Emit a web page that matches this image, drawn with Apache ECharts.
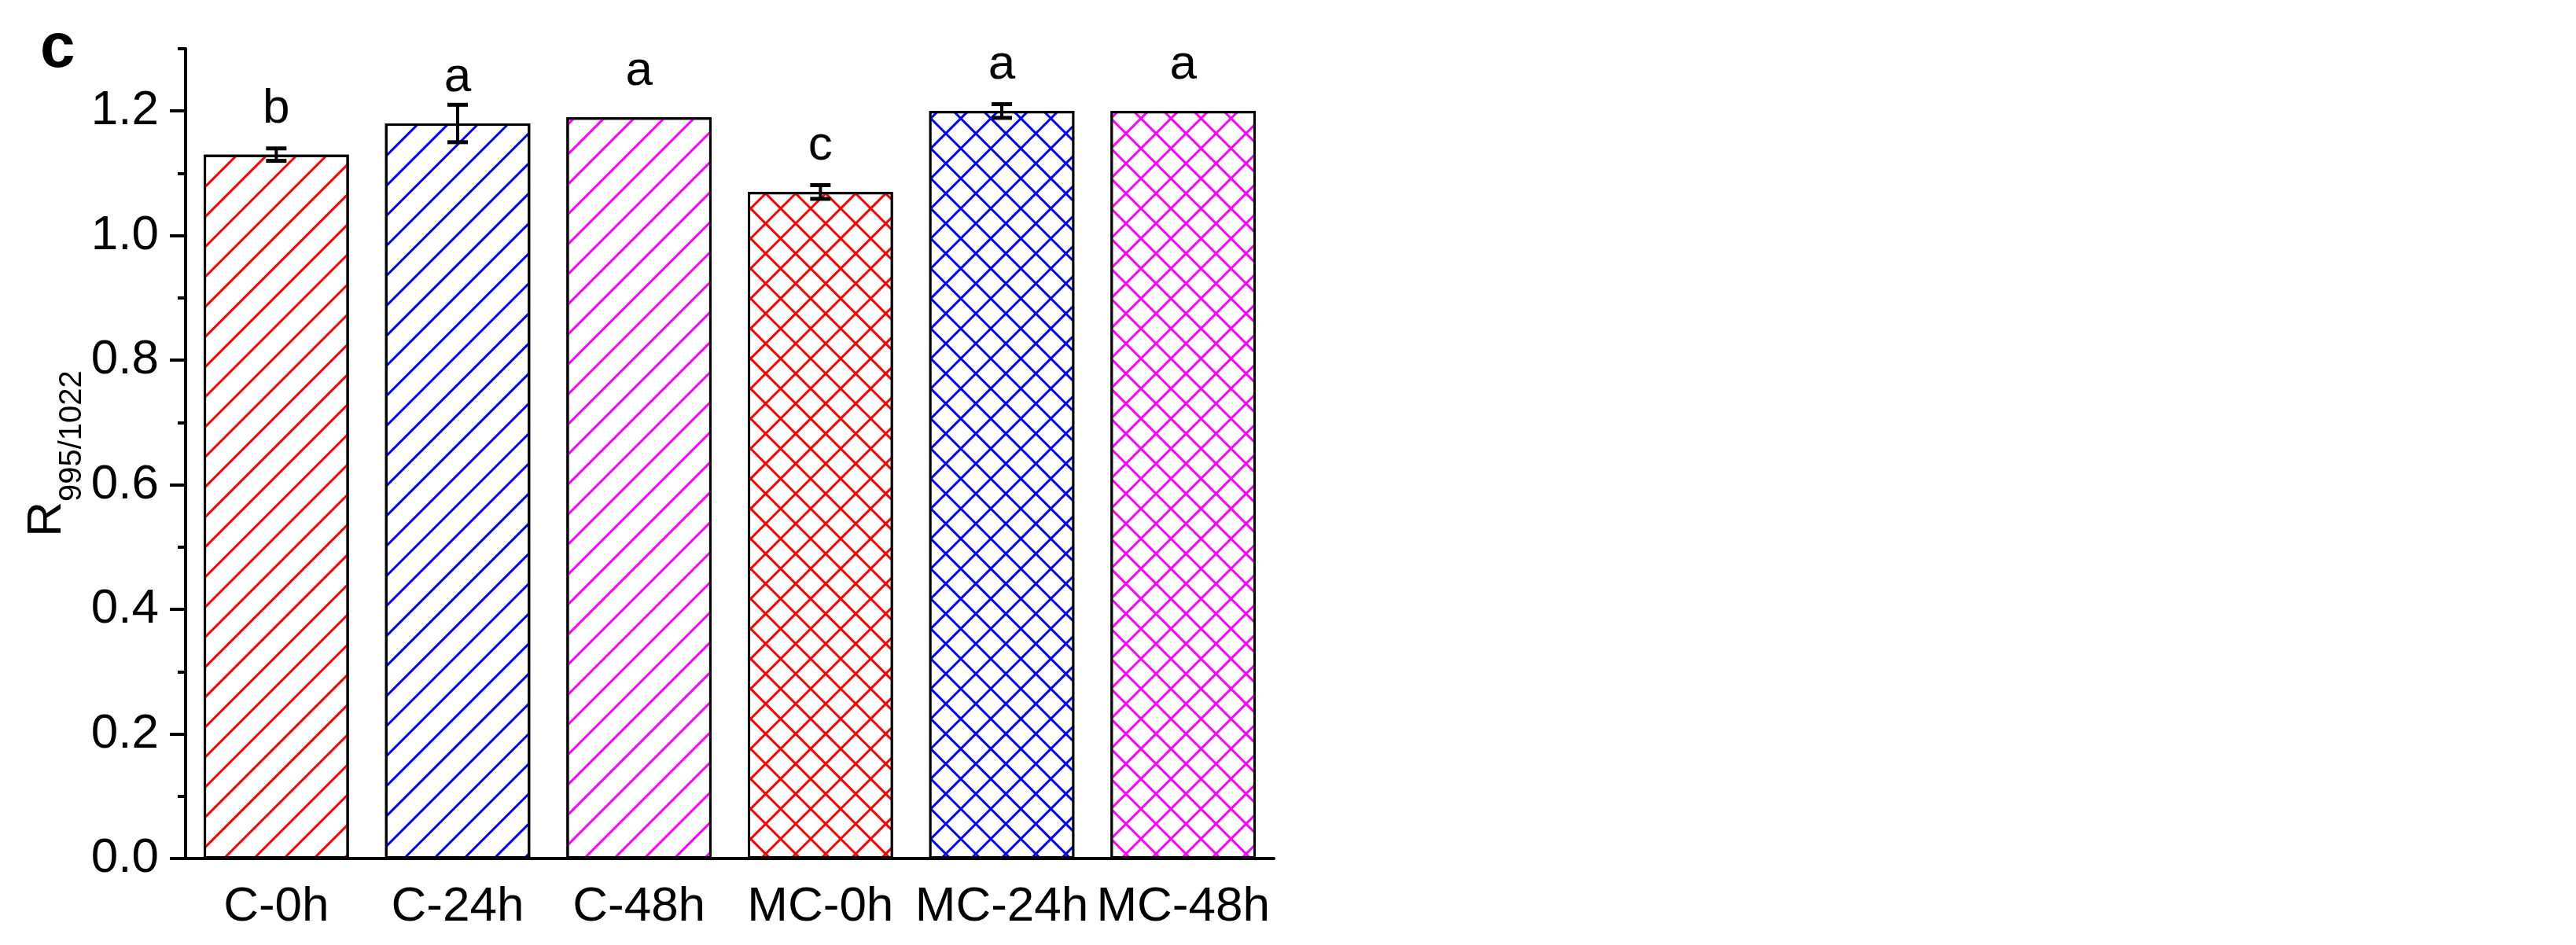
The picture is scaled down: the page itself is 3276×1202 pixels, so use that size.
<!DOCTYPE html>
<html>
<head>
<meta charset="utf-8">
<script src="https://cdn.jsdelivr.net/npm/echarts@6/dist/echarts.min.js"></script>
<style>
html, body { margin: 0; padding: 0; background: #fff; }
#chart { width: 3276px; height: 1202px; }
</style>
</head>
<body>
<div id="chart"></div>
<script>
var categories = ['C-0h', 'C-24h', 'C-48h', 'MC-0h', 'MC-24h', 'MC-48h'];
var values = [1.13, 1.18, 1.19, 1.07, 1.20, 1.20];
var errors = [0.01, 0.03, 0, 0.011, 0.011, 0];
var letters = ['b', 'a', 'a', 'c', 'a', 'a'];
var majorTicks = [0, 0.2, 0.4, 0.6, 0.8, 1.0, 1.2];
var minorTicks = [0.1, 0.3, 0.5, 0.7, 0.9, 1.1, 1.3];

var FONT = '"Liberation Sans", Arial, sans-serif';
var hatchColors = ['#ff0000', '#0000ff', '#ff00ff'];

// single diagonal lines
function hatch(color) {
    return {
        symbol: 'rect', symbolSize: 1,
        dashArrayX: [1, 0], dashArrayY: [3, 24],
        rotation: -Math.PI / 4,
        color: color
    };
}
// cross hatch: white squares on coloured ground, turned 45deg
function cross(color) {
    return {
        symbol: 'rect', symbolSize: 1,
        dashArrayX: [24, 3], dashArrayY: [24, 3],
        rotation: Math.PI / 4,
        color: '#ffffff',
        backgroundColor: color
    };
}

var barData = [];
for (var i = 0; i < values.length; i++) {
    var c = hatchColors[i % 3];
    barData.push({
        value: values[i],
        itemStyle: {
            color: '#ffffff',
            borderColor: '#000',
            borderWidth: 3,
            decal: i < 3 ? hatch(c) : cross(c)
        }
    });
}

var errData = [];
for (var i = 0; i < values.length; i++) {
    errData.push([i, values[i], errors[i]]);
}

var option = {
    animation: false,
    backgroundColor: '#fff',
    title: {
        text: 'c',
        left: 46,
        top: 18,
        textStyle: { fontSize: 80, fontWeight: 'bold', fontFamily: FONT, color: '#000' }
    },
    grid: { left: 236, right: 1656, top: 62, bottom: 110 },
    xAxis: [
        {
            type: 'category',
            data: categories,
            position: 'bottom',
            axisLine: { lineStyle: { color: '#000', width: 4 } },
            axisTick: { alignWithLabel: true, length: 22, lineStyle: { color: '#000', width: 4 } },
            axisLabel: { interval: 0, fontSize: 62, fontFamily: FONT, color: '#000', margin: 31 }
        },
        {
            type: 'category',
            data: categories,
            position: 'bottom',
            axisLine: { show: false },
            axisTick: { length: 12, lineStyle: { color: '#000', width: 4 } },
            axisLabel: { show: false }
        }
    ],
    yAxis: [
        {
            type: 'value',
            min: 0,
            max: 1.3,
            interval: 0.1,
            position: 'left',
            name: '{r|R}{s|995/1022}',
            nameLocation: 'middle',
            nameRotate: 90,
            nameGap: 131,
            nameTextStyle: {
                rich: {
                    r: { fontSize: 62, lineHeight: 62, verticalAlign: 'top', fontFamily: FONT, color: '#000' },
                    s: { fontSize: 40, lineHeight: 40, padding: [43, 0, 0, 0], verticalAlign: 'top', fontFamily: FONT, color: '#000' }
                }
            },
            axisLine: { show: true, lineStyle: { color: '#000', width: 4 } },
            axisTick: { show: true, length: 20, customValues: majorTicks, lineStyle: { color: '#000', width: 4 } },
            axisLabel: {
                customValues: majorTicks,
                formatter: function (v) { return v.toFixed(1); },
                fontSize: 62, fontFamily: FONT, color: '#000', margin: 34
            },
            splitLine: { show: false }
        },
        {
            type: 'value',
            min: 0,
            max: 1.3,
            interval: 0.1,
            position: 'left',
            axisLine: { show: false },
            axisTick: { show: true, length: 10, customValues: minorTicks, lineStyle: { color: '#000', width: 4 } },
            axisLabel: { show: false },
            splitLine: { show: false }
        }
    ],
    series: [
        {
            type: 'bar',
            data: barData,
            barCategoryGap: '20%'
        },
        {
            type: 'custom',
            z: 10,
            data: errData,
            renderItem: function (params, api) {
                var idx = api.value(0), v = api.value(1), e = api.value(2);
                var top = api.coord([idx, v]);
                var hi = api.coord([idx, v + e]);
                var lo = api.coord([idx, v - e]);
                var x = hi[0], cap = 13;
                var kids = [];
                if (e > 0) {
                    kids.push({ type: 'line', shape: { x1: x, y1: hi[1], x2: x, y2: lo[1] }, style: { stroke: '#000', lineWidth: 4 } });
                    kids.push({ type: 'line', shape: { x1: x - cap, y1: hi[1], x2: x + cap, y2: hi[1] }, style: { stroke: '#000', lineWidth: 5 } });
                    kids.push({ type: 'line', shape: { x1: x - cap, y1: lo[1], x2: x + cap, y2: lo[1] }, style: { stroke: '#000', lineWidth: 5 } });
                }
                // letters sit a fixed distance above the bar top
                kids.push({
                    type: 'text',
                    style: {
                        text: letters[params.dataIndex],
                        x: x,
                        y: top[1] - 27,
                        align: 'center',
                        verticalAlign: 'bottom',
                        fontSize: 62,
                        fontFamily: FONT,
                        fill: '#000'
                    }
                });
                return { type: 'group', children: kids };
            }
        }
    ]
};

var myChart = echarts.init(document.getElementById('chart'));
myChart.setOption(option);
</script>
</body>
</html>
